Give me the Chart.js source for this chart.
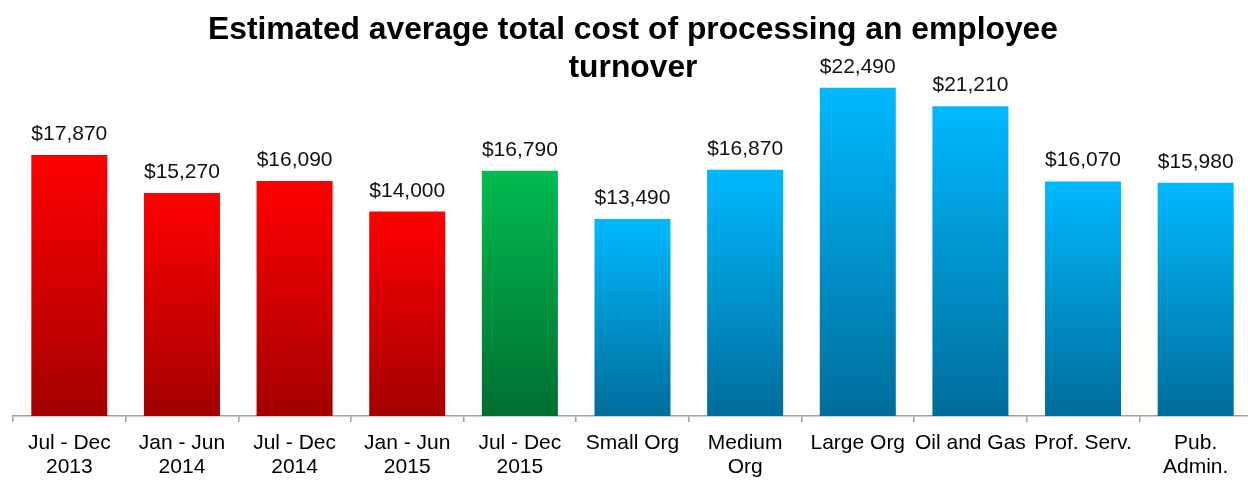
<!DOCTYPE html>
<html>
<head>
<meta charset="utf-8">
<script src="https://cdn.jsdelivr.net/npm/chart.js@4.4.1/dist/chart.umd.min.js"></script>
<style>
  html, body { margin: 0; padding: 0; background: #fff; overflow: hidden; }
  #wrap { position: relative; width: 1252px; height: 489px; }
</style>
</head>
<body>
<div id="wrap"><canvas id="turnover-chart"></canvas></div>
<script>
const chartTitle = [
  "Estimated average total cost of processing an employee",
  "turnover",
];
const categories = [
  ["Jul - Dec", "2013"],
  ["Jan - Jun", "2014"],
  ["Jul - Dec", "2014"],
  ["Jan - Jun", "2015"],
  ["Jul - Dec", "2015"],
  "Small Org",
  ["Medium", "Org"],
  "Large Org",
  "Oil and Gas",
  "Prof. Serv.",
  ["Pub.", "Admin."],
];
const costs = [
  17870, 15270, 16090, 14000, 16790, 13490, 16870, 22490, 21210, 16070, 15980,
];
// which colour family each bar belongs to
const barGroups = [
  "past", "past", "past", "past", "current",
  "segment", "segment", "segment", "segment", "segment", "segment",
];

const FONT = "'Liberation Sans', Arial, sans-serif";

// top -> bottom gradient stops per group
const groupColors = {
  past: ["#ff0000", "#a30000"],
  current: ["#00bb4f", "#006f30"],
  segment: ["#00b9ff", "#006d9a"],
};

function barFill(context) {
  const chart = context.chart;
  const stops = groupColors[barGroups[context.dataIndex]];
  if (!chart.chartArea) return stops[0];
  const yScale = chart.scales.y;
  const top = yScale.getPixelForValue(context.raw);
  const base = yScale.getPixelForValue(0);
  const g = chart.ctx.createLinearGradient(0, top, 0, base);
  g.addColorStop(0, stops[0]);
  g.addColorStop(1, stops[1]);
  return g;
}

const money = new Intl.NumberFormat("en-US", {
  style: "currency",
  currency: "USD",
  maximumFractionDigits: 0,
});

// value above each bar
const valueLabels = {
  id: "valueLabels",
  afterDatasetsDraw(chart) {
    const ctx = chart.ctx;
    const meta = chart.getDatasetMeta(0);
    ctx.save();
    ctx.font = "21px " + FONT;
    ctx.fillStyle = "#111";
    ctx.textAlign = "center";
    ctx.textBaseline = "alphabetic";
    meta.data.forEach((bar, i) => {
      ctx.fillText(money.format(costs[i]), bar.x, bar.y - 15);
    });
    ctx.restore();
  },
};

// two-line bold heading, drawn over the top of the plot
const heading = {
  id: "heading",
  afterDraw(chart) {
    const ctx = chart.ctx;
    ctx.save();
    ctx.font = "bold 31.8px " + FONT;
    ctx.fillStyle = "#000";
    ctx.textAlign = "center";
    ctx.textBaseline = "alphabetic";
    ctx.fillText(chartTitle[0], 633, 39);
    ctx.fillText(chartTitle[1], 633, 76.5);
    ctx.restore();
  },
};

let config = {
  type: "bar",
  data: {
    labels: categories,
    datasets: [
      {
        data: costs,
        backgroundColor: barFill,
        borderWidth: 0,
        categoryPercentage: 0.675,
        barPercentage: 1,
      },
    ],
  },
  options: {
    responsive: true,
    maintainAspectRatio: false,
    animation: false,
    layout: {
      padding: { top: 51, left: 13, right: 0, bottom: 0 },
    },
    scales: {
      x: {
        afterFit: function (scale) {
          scale.height = 73;
        },
        grid: {
          offset: true,
          drawOnChartArea: false,
          drawTicks: true,
          tickLength: 6,
          color: "#a0a0a0",
          lineWidth: 1.5,
        },
        border: {
          display: true,
          color: "#a0a0a0",
          width: 1.5,
        },
        ticks: {
          color: "#000",
          padding: 9,
          maxRotation: 0,
          autoSkip: false,
          font: { family: FONT, size: 21, lineHeight: 1.14 },
        },
      },
      y: {
        display: false,
        min: 0,
        max: 25000,
      },
    },
    plugins: {
      legend: { display: false },
      tooltip: { enabled: false },
      title: { display: false },
    },
  },
  plugins: [valueLabels, heading],
};
const turnoverChart = new Chart(document.getElementById("turnover-chart"), config);
</script>
</body>
</html>
